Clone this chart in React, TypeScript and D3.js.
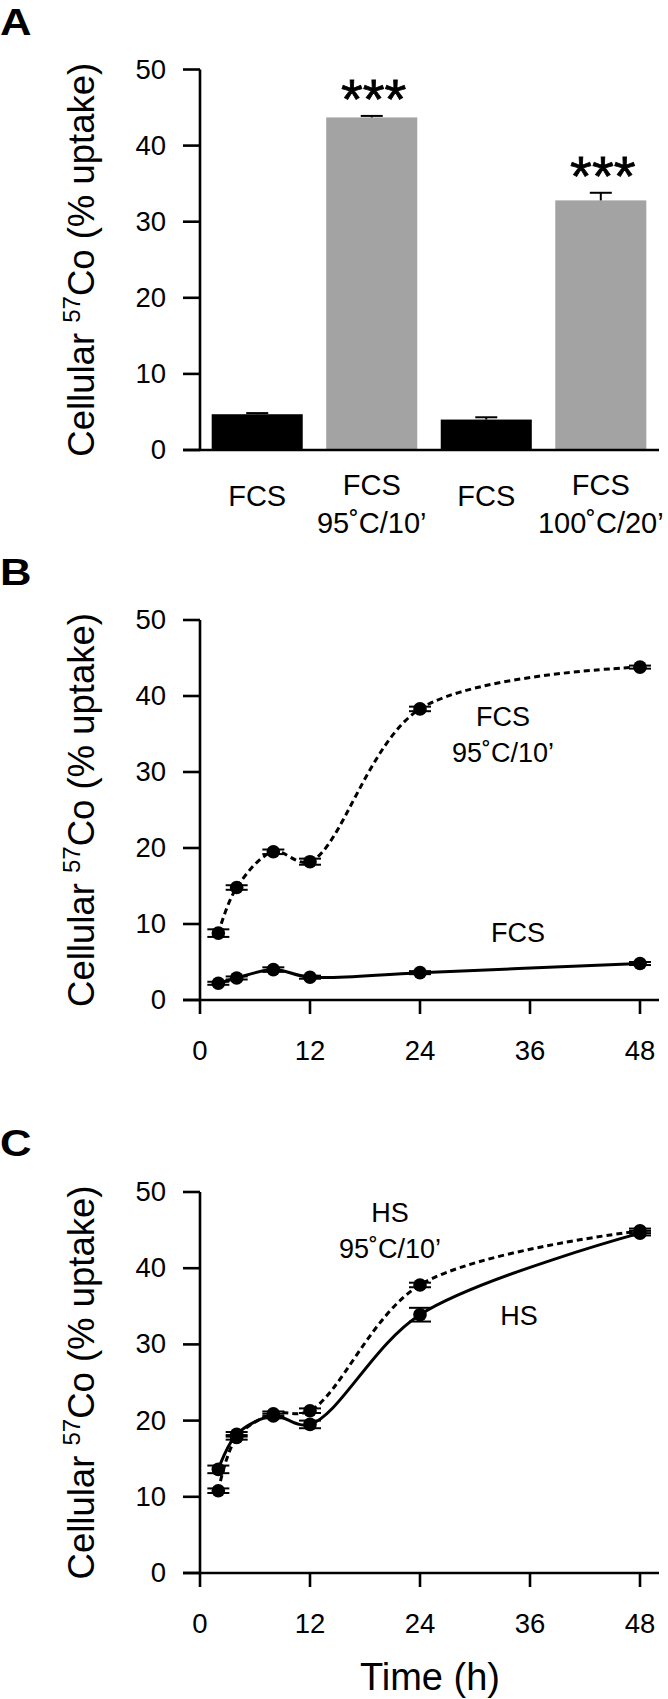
import React, { useEffect } from 'react';
import * as d3 from 'd3';

// ---------- data ----------
const barCategories = ['FCS', 'FCS|95˚C/10’', 'FCS', 'FCS|100˚C/20’'];
const barValues = [4.7, 43.7, 4.0, 32.8];
const barErrors = [0.15, 0.2, 0.3, 1.0];
const barFills = ['#000000', '#a3a3a3', '#000000', '#a3a3a3'];
const barStars = ['', '***', '', '***'];

const timePoints = [2, 4, 8, 12, 24, 48];
const fcsHeatedB = [8.8, 14.8, 19.5, 18.2, 38.3, 43.8];
const fcsHeatedBErr = [0.5, 0.3, 0.3, 0.4, 0.3, 0.2];
const fcsB = [2.2, 2.9, 4.0, 3.0, 3.6, 4.8];
const fcsBErr = [0.2, 0.2, 0.3, 0.2, 0.2, 0.2];
const hsHeatedC = [10.8, 17.8, 20.9, 21.3, 37.8, 44.9];
const hsHeatedCErr = [0.3, 0.3, 0.3, 0.3, 0.3, 0.3];
const hsC = [13.6, 18.2, 20.6, 19.5, 33.9, 44.6];
const hsCErr = [0.5, 0.3, 0.3, 0.5, 0.9, 0.3];

const yTicks = [0, 10, 20, 30, 40, 50];
const xTicks = [0, 12, 24, 36, 48];

const FONT = '"Liberation Sans", Arial, Helvetica, sans-serif';

const AXIS_X = 200;
const AXIS_RIGHT = 659;
const TICK_LEN = 17;

function YAxis({ y, title }: { y: d3.ScaleLinear<number, number>; title: boolean }) {
  const [y0, y1] = y.range();
  const mid = (y0 + y1) / 2;
  return (
    <g>
      <line x1={AXIS_X} x2={AXIS_X} y1={y(50)} y2={y(0)} stroke="#000" strokeWidth={2.6} />
      <line x1={AXIS_X - TICK_LEN} x2={AXIS_RIGHT} y1={y(0)} y2={y(0)} stroke="#000" strokeWidth={2.6} />
      {yTicks.map((t) => (
        <g key={t}>
          <line x1={AXIS_X - TICK_LEN} x2={AXIS_X} y1={y(t)} y2={y(t)} stroke="#000" strokeWidth={2.6} />
          <text x={AXIS_X - TICK_LEN - 17} y={y(t)} dy="0.33em" textAnchor="end" fontSize={27.5} fontFamily={FONT}>
            {t}
          </text>
        </g>
      ))}
      {title && (
        <text transform={`translate(94,${mid}) rotate(-90)`} textAnchor="middle" fontSize={36.5} fontFamily={FONT}>
          <tspan>Cellular </tspan>
          <tspan fontSize={24} dy={-14}>57</tspan>
          <tspan dy={14}>Co (% uptake)</tspan>
        </text>
      )}
    </g>
  );
}

function XAxis({ x, y }: { x: d3.ScaleLinear<number, number>; y: d3.ScaleLinear<number, number> }) {
  const base = y(0);
  return (
    <g>
      {xTicks.map((t) => (
        <g key={t}>
          <line x1={x(t)} x2={x(t)} y1={base} y2={base + 14} stroke="#000" strokeWidth={2.6} />
          <text x={x(t)} y={base + 60} textAnchor="middle" fontSize={27.5} fontFamily={FONT}>
            {t}
          </text>
        </g>
      ))}
    </g>
  );
}

function Series({
  x, y, values, errors, dashed,
}: {
  x: d3.ScaleLinear<number, number>;
  y: d3.ScaleLinear<number, number>;
  values: number[];
  errors: number[];
  dashed: boolean;
}) {
  const pts = timePoints.map((t, i) => [t, values[i]] as [number, number]);
  const line = d3
    .line<[number, number]>()
    .x((d) => x(d[0]))
    .y((d) => y(d[1]))
    .curve(d3.curveCatmullRom.alpha(0.5));
  const cap = 11;
  return (
    <g>
      <path d={line(pts) || ''} fill="none" stroke="#000" strokeWidth={3} strokeDasharray={dashed ? '6,4' : undefined} />
      {pts.map((p, i) => (
        <g key={i}>
          <circle cx={x(p[0])} cy={y(p[1])} r={6.8} fill="#000" />
          <line x1={x(p[0])} x2={x(p[0])} y1={y(p[1] - errors[i])} y2={y(p[1] + errors[i])} stroke="#000" strokeWidth={2} />
          <line x1={x(p[0]) - cap} x2={x(p[0]) + cap} y1={y(p[1] - errors[i])} y2={y(p[1] - errors[i])} stroke="#000" strokeWidth={2} />
          <line x1={x(p[0]) - cap} x2={x(p[0]) + cap} y1={y(p[1] + errors[i])} y2={y(p[1] + errors[i])} stroke="#000" strokeWidth={2} />
        </g>
      ))}
    </g>
  );
}

function Label({ x, y, lines }: { x: number; y: number; lines: string[] }) {
  return (
    <g>
      {lines.map((l, i) => (
        <text key={i} x={x} y={y + i * 36} textAnchor="middle" fontSize={27} fontFamily={FONT}>
          {l}
        </text>
      ))}
    </g>
  );
}

export default function App() {
  useEffect(() => {
    document.body.style.margin = '0';
  }, []);

  // Panel A
  const yA = d3.scaleLinear().domain([0, 50]).range([450, 69.5]);
  const xA = d3
    .scaleBand<number>()
    .domain(barValues.map((_, i) => i))
    .range([AXIS_X, 658])
    .paddingInner(0.205)
    .paddingOuter(0.102);

  // Panel B & C
  const xT = d3.scaleLinear().domain([0, 48]).range([200, 640]);
  const yB = d3.scaleLinear().domain([0, 50]).range([1000, 620]);
  const yC = d3.scaleLinear().domain([0, 50]).range([1573, 1192]);

  return (
    <svg width={668} height={1699} style={{ display: 'block', background: '#fff' }} fontFamily={FONT}>
      <rect width={668} height={1699} fill="#fff" />
      {/* ---------- A ---------- */}
      <text x={0} y={35} fontSize={37} fontWeight="bold" fontFamily={FONT} transform="scale(1.18,1)">A</text>
      {barValues.map((v, i) => {
        const bx = xA(i) as number;
        const bw = xA.bandwidth();
        const cx = bx + bw / 2;
        const top = yA(v + barErrors[i]);
        return (
          <g key={i}>
            <rect x={bx} y={yA(v)} width={bw} height={yA(0) - yA(v)} fill={barFills[i]} />
            <line x1={cx} x2={cx} y1={yA(v)} y2={top} stroke="#000" strokeWidth={2} />
            <line x1={cx - 11} x2={cx + 11} y1={top} y2={top} stroke="#000" strokeWidth={2} />
            {barStars[i] && (
              <text x={cx + 2} y={top + 2} textAnchor="middle" fontSize={56} fontFamily={FONT} stroke="#000" strokeWidth={0.8}>
                {barStars[i]}
              </text>
            )}
            {barCategories[i].split('|').length === 1 ? (
              <text x={cx} y={505.5} textAnchor="middle" fontSize={29} fontFamily={FONT}>
                {barCategories[i]}
              </text>
            ) : (
              barCategories[i].split('|').map((l, j) => (
                <text key={j} x={cx} y={494.5 + j * 38} textAnchor="middle" fontSize={29} fontFamily={FONT}>
                  {l}
                </text>
              ))
            )}
          </g>
        );
      })}
      <YAxis y={yA} title={true} />

      {/* ---------- B ---------- */}
      <text x={0} y={585} fontSize={37} fontWeight="bold" fontFamily={FONT} transform="scale(1.18,1)">B</text>
      <YAxis y={yB} title={true} />
      <XAxis x={xT} y={yB} />
      <Series x={xT} y={yB} values={fcsHeatedB} errors={fcsHeatedBErr} dashed={true} />
      <Series x={xT} y={yB} values={fcsB} errors={fcsBErr} dashed={false} />
      <Label x={503} y={726} lines={['FCS', '95˚C/10’']} />
      <Label x={518} y={942} lines={['FCS']} />

      {/* ---------- C ---------- */}
      <text x={0} y={1156} fontSize={37} fontWeight="bold" fontFamily={FONT} transform="scale(1.18,1)">C</text>
      <YAxis y={yC} title={true} />
      <XAxis x={xT} y={yC} />
      <Series x={xT} y={yC} values={hsHeatedC} errors={hsHeatedCErr} dashed={true} />
      <Series x={xT} y={yC} values={hsC} errors={hsCErr} dashed={false} />
      <Label x={390} y={1222} lines={['HS', '95˚C/10’']} />
      <Label x={519} y={1325} lines={['HS']} />
      <text x={430} y={1690} textAnchor="middle" fontSize={38} fontFamily={FONT}>Time (h)</text>
    </svg>
  );
}
